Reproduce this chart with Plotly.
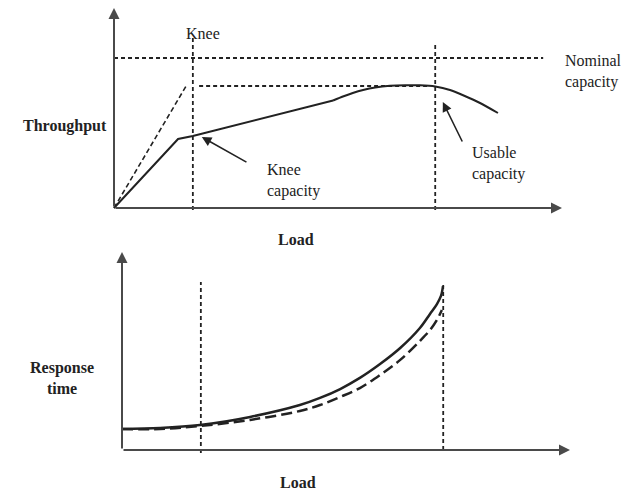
import plotly.graph_objects as go

# ---------------- data (conceptual units: load 0-100, throughput 0-100, response time 0-100)
knee_load = 17.6
usable_load = 71.7
nominal_capacity = 75.0
usable_capacity = 61.0

# throughput: straight part
thr_lin_load = [0, 14.3, 17.6, 48.9]
thr_lin_val = [0, 34.5, 36.0, 53.75]
# throughput: curved part
thr_curve_load = [48.9, 51.1, 53.3, 55.6, 58.3, 61.6, 65.0, 68.3, 71.7, 75.0, 78.3, 81.7, 85.7]
thr_curve_val = [53.75, 55.75, 57.5, 59.0, 60.25, 61.1, 61.4, 61.35, 60.75, 59.0, 56.0, 52.5, 47.5]
# ideal (linear) throughput
ideal_load = [0, 16.1]
ideal_val = [0, 61.0]

# response time curves
rt_solid_load = [0, 8.5, 17.4, 28.6, 39.7, 44.2, 48.7, 53.1, 57.6, 62.1, 66.5, 68.75, 70.3, 71.2, 71.65]
rt_solid_val = [10.6, 11.1, 12.6, 16.7, 22.7, 26.3, 30.8, 36.4, 43.4, 51.5, 61.6, 68.7, 73.7, 77.8, 82.8]
rt_dash_load = [0, 8.5, 17.4, 28.6, 39.7, 44.2, 48.7, 53.1, 57.6, 62.1, 66.5, 68.75, 70.3, 71.4]
rt_dash_val = [10.6, 10.6, 12.1, 15.2, 19.7, 22.7, 26.8, 31.3, 37.9, 45.5, 55.1, 60.6, 65.7, 70.7]

# ---------------- styling
W, H = 626, 491
INK = "#222222"
AXIS = "#4a4a4a"
FONT = "Liberation Serif"
GUIDE_DASH = "4px,3px"

fig = go.Figure()

def guide(x, y, xa, ya, dash=GUIDE_DASH, width=1.8):
    fig.add_trace(go.Scatter(x=x, y=y, mode="lines", xaxis=xa, yaxis=ya,
                             line=dict(color=INK, width=width, dash=dash),
                             hoverinfo="skip", showlegend=False))

# ---- top panel
guide([knee_load, knee_load], [-1, 85], "x", "y")
guide([usable_load, usable_load], [-1, 82.5], "x", "y")
guide([0, 95.8], [nominal_capacity, nominal_capacity], "x", "y")
guide([19, 70], [usable_capacity, usable_capacity], "x", "y")
guide(ideal_load, ideal_val, "x", "y", dash="5px,3px", width=1.6)

fig.add_trace(go.Scatter(x=thr_lin_load, y=thr_lin_val, mode="lines", xaxis="x", yaxis="y",
                         line=dict(color=INK, width=2), hoverinfo="skip", showlegend=False))
fig.add_trace(go.Scatter(x=thr_curve_load, y=thr_curve_val, mode="lines", xaxis="x", yaxis="y",
                         line=dict(color=INK, width=2, shape="spline", smoothing=0.6),
                         hoverinfo="skip", showlegend=False))

# ---- bottom panel
guide([knee_load, knee_load], [-1.5, 84.8], "x2", "y2")
guide([usable_load, usable_load], [0, 83.3], "x2", "y2")
fig.add_trace(go.Scatter(x=rt_dash_load, y=rt_dash_val, mode="lines", xaxis="x2", yaxis="y2",
                         line=dict(color=INK, width=2.5, dash="11px,5px", shape="spline", smoothing=1.0),
                         hoverinfo="skip", showlegend=False))
fig.add_trace(go.Scatter(x=rt_solid_load, y=rt_solid_val, mode="lines", xaxis="x2", yaxis="y2",
                         line=dict(color=INK, width=2.5, shape="spline", smoothing=1.0),
                         hoverinfo="skip", showlegend=False))

annotations = []

def arrow(x, y, ax, ay, xr, yr, width=2, color=AXIS, size=1.1):
    annotations.append(dict(x=x, y=y, ax=ax, ay=ay, xref=xr, yref=yr, axref=xr, ayref=yr,
                            showarrow=True, arrowhead=2, arrowsize=size, arrowwidth=width,
                            arrowcolor=color, standoff=0, text=""))

def label(text, x, y, xr, yr, xanchor="center", bold=False, align="center"):
    t = f"<b>{text}</b>" if bold else text
    annotations.append(dict(x=x, y=y, xref=xr, yref=yr, text=t, showarrow=False,
                            xanchor=xanchor, yanchor="middle", align=align,
                            font=dict(family=FONT, size=16, color=INK)))

# axes with arrowheads
arrow(0, 100, 0, 0, "x", "y")
arrow(100, 0, 0, 0, "x", "y")
arrow(0, 100, 0, 0, "x2", "y2")
arrow(100, 0, 0, 0, "x2", "y2")

# pointer arrows
arrow(19.6, 35.5, 29.9, 22.5, "x", "y", width=1.6, color=INK, size=1.2)
arrow(73.4, 53.0, 77.9, 32.5, "x", "y", width=1.6, color=INK, size=1.2)

# texts
label("Knee", 19.9, 87.5, "x", "y")
label("Knee<br>capacity", 33.7, 14.0, "x", "y", xanchor="left", align="left")
label("Usable<br>capacity", 79.5, 22.25, "x", "y", xanchor="left", align="left")
label("Nominal<br>capacity", 100.2, 68.5, "x", "y", xanchor="left", align="left")
label("Throughput", -10.9, 41.0, "x", "y", bold=True)
label("Load", 40.6, -15.5, "x", "y", bold=True)
label("Response<br>time", -13.4, 36.4, "x2", "y2", bold=True)
label("Load", 39.3, -16.2, "x2", "y2", bold=True)

# ---------------- axes: data units mapped onto page regions
PX_PER_LOAD = 4.48
top_origin_px, bot_origin_px = 114, 122
top_axis_py, bot_axis_py = 208, 450
PX_PER_THR, PX_PER_RT = 2.0, 1.98

def hidden(**kw):
    d = dict(visible=False, showgrid=False, zeroline=False, fixedrange=True)
    d.update(kw)
    return d

fig.update_layout(
    width=W, height=H,
    margin=dict(l=0, r=0, t=0, b=0),
    paper_bgcolor="white", plot_bgcolor="rgba(0,0,0,0)",
    showlegend=False,
    xaxis=hidden(domain=[0, 1], anchor="y",
                 range=[-top_origin_px / PX_PER_LOAD, (W - top_origin_px) / PX_PER_LOAD]),
    yaxis=hidden(domain=[0.5, 1], anchor="x",
                 range=[-(H / 2 - top_axis_py) / PX_PER_THR, top_axis_py / PX_PER_THR]),
    xaxis2=hidden(domain=[0, 1], anchor="y2",
                  range=[-bot_origin_px / PX_PER_LOAD, (W - bot_origin_px) / PX_PER_LOAD]),
    yaxis2=hidden(domain=[0, 0.5], anchor="x2",
                  range=[-(H - bot_axis_py) / PX_PER_RT, (bot_axis_py - H / 2) / PX_PER_RT]),
    annotations=annotations,
)

fig.write_html("out.html", config={"displayModeBar": False},
               post_script="document.body.style.margin='0';document.body.style.overflow='hidden';")
